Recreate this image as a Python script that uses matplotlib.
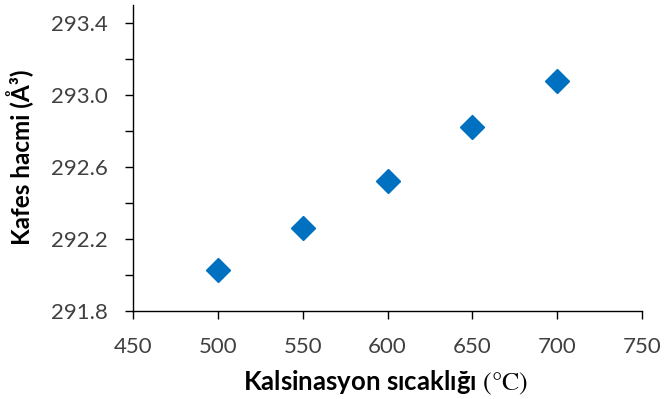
import matplotlib
matplotlib.use("Agg")
import matplotlib.pyplot as plt
import numpy as np
from matplotlib.ticker import MultipleLocator, FormatStrFormatter

temps = [500, 550, 600, 650, 700]
volume = [292.03, 292.26, 292.52, 292.82, 293.08]

MARKER_COLOR = "#0070C0"
TICK_COLOR = "#404040"

plt.rcParams["font.family"] = ["Lato", "DejaVu Sans"]
plt.rcParams["mathtext.fontset"] = "stix"

fig = plt.figure(figsize=(6.64, 3.99), dpi=100)
ax = fig.add_axes([0.2003, 0.2206, 0.7666, 0.767])

ax.plot(temps, volume, ls="none", marker="D", ms=12, color=MARKER_COLOR,
        markeredgecolor=MARKER_COLOR, clip_on=False)

ax.set_xlim(450, 750)
ax.set_ylim(291.8, 293.5)
ax.xaxis.set_major_locator(MultipleLocator(50))
ax.set_yticks(np.arange(291.8, 293.41, 0.4))
ax.set_yticks(np.arange(291.8, 293.41, 0.2), minor=True)
ax.yaxis.set_major_formatter(FormatStrFormatter("%.1f"))

for s in ["top", "right"]:
    ax.spines[s].set_visible(False)
for s in ["left", "bottom"]:
    ax.spines[s].set_linewidth(1.0)

ax.tick_params(axis="both", which="both", direction="out", length=6, width=1.0,
               labelsize=16, labelcolor=TICK_COLOR)
ax.tick_params(axis="y", pad=12)
ax.tick_params(axis="x", pad=13)

ax.set_ylabel("Kafes hacmi (Å³)", fontsize=17.5, fontweight="bold", va="center")
ax.yaxis.set_label_coords(-0.222, 0.502)
ax.set_xlabel("Kalsinasyon sıcaklığı $\\mathrm{(°C)}$", fontsize=18.5, fontweight="bold", va="center")
ax.xaxis.set_label_coords(0.496, -0.235)

fig.savefig("out.png", dpi=100)
